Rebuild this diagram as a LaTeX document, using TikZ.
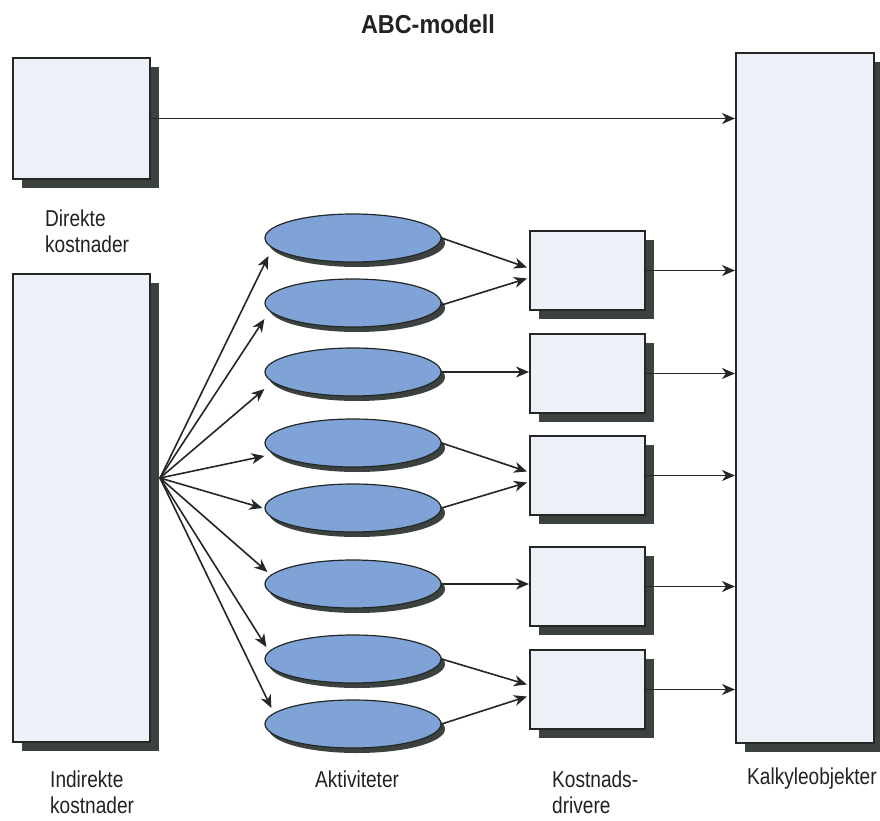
\documentclass[tikz,border=0pt]{standalone}
\usepackage{fontspec}
\setmainfont{Liberation Sans}
\newfontfamily\lblfont[FakeStretch=0.83]{Liberation Sans}
\newfontfamily\headfont[FakeStretch=0.9]{Liberation Sans}
\usetikzlibrary{shapes.geometric,shadows,arrows.meta,calc}

\definecolor{boxfill}{HTML}{EEF0F8}
\definecolor{shadowc}{HTML}{3B423F}
\definecolor{actfill}{HTML}{7FA3D7}
\definecolor{edgec}{HTML}{232826}
\definecolor{labelc}{HTML}{222222}

\begin{document}
\begin{tikzpicture}[x=1pt,y=-1pt,
  lbl/.style={font=\lblfont\fontsize{23}{26}\selectfont, inner sep=0pt, align=left, text=labelc},
  panel/.style={draw=edgec, line width=2pt, fill=boxfill, inner sep=0pt, anchor=north west,
    drop shadow={shadow xshift=9pt, shadow yshift=-9pt, fill=shadowc, opacity=1}},
  activity/.style={ellipse, draw=edgec, line width=1.2pt, fill=actfill,
    minimum width=176pt, minimum height=48pt, inner sep=0pt,
    drop shadow={shadow xshift=4pt, shadow yshift=-5pt, fill=shadowc, opacity=1}},
  flow/.style={draw=edgec, line width=1.6pt, -{Stealth[length=13pt,width=11pt,inset=4pt]}},
]
\path[use as bounding box, fill=white] (0,0) rectangle (880,821);

% title
\node[font=\headfont\bfseries\fontsize{26}{30}\selectfont, text=labelc, anchor=north, inner sep=0pt] (title) at (428,14) {ABC-modell};

% cost pools and cost objects
\node[panel, minimum width=137pt, minimum height=121pt] (dk) at (12,57) {};
\node[panel, minimum width=137pt, minimum height=468pt] (ik) at (12,273) {};
\node[panel, minimum width=138pt, minimum height=690pt] (kalk) at (735,52) {};

% activities
\foreach \n/\y in {1/238, 2/303, 3/372, 4/443, 5/508, 6/584, 7/659, 8/724}
  \node[activity] (e\n) at (353,\y) {};

% cost drivers
\foreach \n/\y in {1/230, 2/333, 3/435, 4/546, 5/649}
  \node[panel, minimum width=115pt, minimum height=79pt] (kd\n) at (529,\y) {};

% labels
\node[lbl, anchor=north west] (dklbl) at (45,210) {Direkte\\kostnader};
\node[lbl, anchor=north west] (iklbl) at (50,771) {Indirekte\\kostnader};
\node[lbl, anchor=north west] (aklbl) at (315,771) {Aktiviteter};
\node[lbl, anchor=north west] (kdlbl) at (552,771) {Kostnads-\\drivere};
\node[lbl, anchor=north west] (kolbl) at (747,768) {Kalkyleobjekter};

% direct costs go straight to the cost objects
\draw[flow] (dk.east) -- (dk.east -| kalk.west);

% indirect costs are spread over the activities
\coordinate (fan) at (160,478);
\foreach \n/\dx/\dy in {1/4/18, 2/0/16, 3/0/17, 4/0/13, 5/-2/0, 6/3/-12, 7/2/-12, 8/7/-16}
  \draw[flow] (fan) -- ($(e\n.west)+(\dx,\dy)$);

% activities to cost drivers
\draw[flow] (e1.east) -- ($(kd1.west)+(-2,-3)$);
\draw[flow] ($(e2.east)+(0,2)$) -- ($(kd1.west)+(-2,8)$);
\draw[flow] (e3.east) -- (e3.east -| kd2.west);
\draw[flow] (e4.east) -- ($(kd3.west)+(-2,-4)$);
\draw[flow] (e5.east) -- ($(kd3.west)+(-2,7)$);
\draw[flow] (e6.east) -- (e6.east -| kd4.west);
\draw[flow] (e7.east) -- ($(kd5.west)+(-2,-5)$);
\draw[flow] (e8.east) -- ($(kd5.west)+(-2,7)$);

% cost drivers to cost objects
\foreach \n in {1,...,5}
  \draw[flow] (kd\n.east) -- (kd\n.east -| kalk.west);
\end{tikzpicture}
\end{document}
